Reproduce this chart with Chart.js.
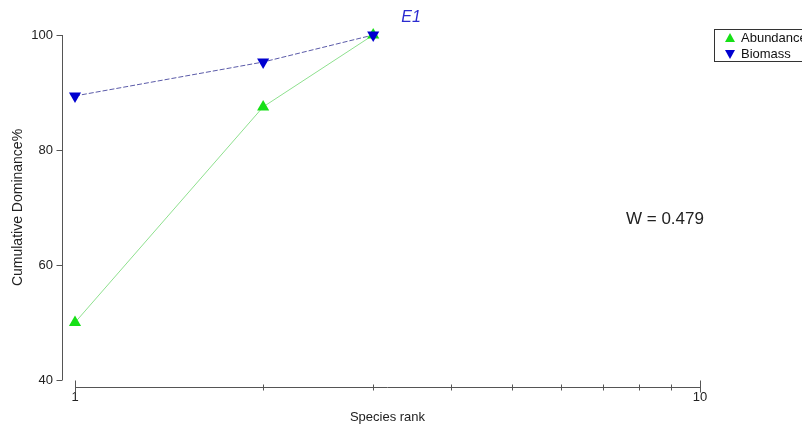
<!DOCTYPE html>
<html>
<head>
<meta charset="utf-8">
<script src="https://cdn.jsdelivr.net/npm/chart.js@4.4.1/dist/chart.umd.min.js"></script>
<style>
  html, body { margin: 0; padding: 0; background: #fff; }
  #wrap { width: 802px; height: 425px; }
</style>
</head>
<body>
<div id="wrap"><canvas id="c" width="802" height="425"></canvas></div>
<script>
// Species rank (log axis) and cumulative dominance values
const ranks = [1, 2, 3];
const abundance = [50.0, 87.5, 100.0];
const biomass = [89.4, 95.3, 100.0];
const yTicks = [40, 60, 80, 100];
const xTicks = [1, 2, 3, 4, 5, 6, 7, 8, 9, 10];
const xLabelValues = [1, 10];
const plotTitle = 'E1';
const statText = 'W = 0.479';

const FONT = '"Liberation Sans", Arial, sans-serif';
const AXIS_COLOR = '#555';

// Offset axis lines, tick marks, title, statistic and legend box
const decorations = {
  id: 'decorations',
  afterDraw(chart) {
    const { ctx, chartArea: a, scales: { x, y } } = chart;
    ctx.save();
    ctx.strokeStyle = AXIS_COLOR;
    ctx.lineWidth = 1;

    // y axis line, detached to the left of the plot
    const yx = Math.round(a.left - 13) + 0.5;
    ctx.beginPath();
    ctx.moveTo(yx, y.getPixelForValue(100));
    ctx.lineTo(yx, y.getPixelForValue(40));
    yTicks.forEach(v => {
      const py = Math.round(y.getPixelForValue(v)) + 0.5;
      ctx.moveTo(yx - 6, py);
      ctx.lineTo(yx, py);
    });
    ctx.stroke();

    // x axis line, detached below the plot
    const xy = Math.round(a.bottom + 7) + 0.5;
    ctx.beginPath();
    ctx.moveTo(x.getPixelForValue(1), xy);
    ctx.lineTo(x.getPixelForValue(10), xy);
    x.ticks.forEach(t => {
      const px = Math.round(x.getPixelForValue(t.value)) + 0.5;
      const major = xLabelValues.includes(t.value);
      ctx.moveTo(px, major ? xy - 7 : xy - 3);
      ctx.lineTo(px, major ? xy + 5 : xy + 3);
    });
    ctx.stroke();

    // title
    ctx.fillStyle = '#2b2bd0';
    ctx.font = 'italic 16px ' + FONT;
    ctx.textAlign = 'center';
    ctx.textBaseline = 'middle';
    ctx.fillText(plotTitle, 411, 18);

    // statistic
    ctx.fillStyle = '#222';
    ctx.font = '17px ' + FONT;
    ctx.textAlign = 'left';
    ctx.fillText(statText, 626, 219);

    // legend
    ctx.strokeStyle = '#333';
    ctx.strokeRect(714.5, 29.5, 100, 32);
    const entries = [chart.data.datasets[1], chart.data.datasets[0]];
    entries.forEach((ds, i) => {
      const cy = 38 + i * 16;
      const cx = 730;
      ctx.fillStyle = ds.pointBackgroundColor;
      ctx.beginPath();
      if (ds.pointRotation === 180) {
        ctx.moveTo(cx - 5, cy - 4);
        ctx.lineTo(cx + 5, cy - 4);
        ctx.lineTo(cx, cy + 5);
      } else {
        ctx.moveTo(cx - 5, cy + 4);
        ctx.lineTo(cx + 5, cy + 4);
        ctx.lineTo(cx, cy - 5);
      }
      ctx.closePath();
      ctx.fill();
      ctx.fillStyle = '#111';
      ctx.font = '13px ' + FONT;
      ctx.textAlign = 'left';
      ctx.textBaseline = 'middle';
      ctx.fillText(ds.label, 741, cy);
    });
    ctx.restore();
  }
};

new Chart(document.getElementById('c'), {
  type: 'line',
  data: {
    datasets: [
      {
        label: 'Biomass',
        data: ranks.map((r, i) => ({ x: r, y: biomass[i] })),
        borderColor: '#5a5aa8',
        borderWidth: 1,
        borderDash: [5, 2],
        pointStyle: 'triangle',
        pointRotation: 180,
        pointRadius: 7,
        pointBackgroundColor: '#0000d0',
        pointBorderColor: '#0000d0',
        pointBorderWidth: 0,
        order: 0,
        clip: false
      },
      {
        label: 'Abundance',
        data: ranks.map((r, i) => ({ x: r, y: abundance[i] })),
        borderColor: '#8ee08e',
        borderWidth: 1,
        pointStyle: 'triangle',
        pointRotation: 0,
        pointRadius: 7,
        pointBackgroundColor: '#16e016',
        pointBorderColor: '#16e016',
        pointBorderWidth: 0,
        order: 1,
        clip: false
      }
    ]
  },
  options: {
    responsive: false,
    animation: false,
    events: [],
    layout: { padding: { left: 0, right: 102, top: 35, bottom: 0 } },
    plugins: {
      legend: { display: false },
      tooltip: { enabled: false },
      title: { display: false }
    },
    scales: {
      x: {
        type: 'logarithmic',
        min: 1,
        max: 10,
        grid: { display: false, drawTicks: false },
        border: { display: false },
        afterBuildTicks: s => { s.ticks = xTicks.map(v => ({ value: v })); },
        ticks: {
          autoSkip: false,
          maxRotation: 0,
          padding: 10,
          color: '#222',
          font: { family: FONT, size: 13 },
          callback: v => (xLabelValues.includes(v) ? String(v) : '')
        },
        title: {
          display: true,
          text: 'Species rank',
          color: '#222',
          font: { family: FONT, size: 13 },
          padding: { top: 0, bottom: 0 }
        },
        afterFit: s => { s.height = 45; }
      },
      y: {
        min: 40,
        max: 100,
        grid: { display: false, drawTicks: false },
        border: { display: false },
        afterBuildTicks: s => { s.ticks = yTicks.map(v => ({ value: v })); },
        ticks: {
          padding: 22,
          color: '#222',
          font: { family: FONT, size: 13 }
        },
        title: {
          display: true,
          text: 'Cumulative Dominance%',
          color: '#222',
          font: { family: FONT, size: 14 },
          padding: { top: 10, bottom: 0 }
        },
        afterFit: s => { s.width = 75; }
      }
    }
  },
  plugins: [decorations]
});
</script>
</body>
</html>
